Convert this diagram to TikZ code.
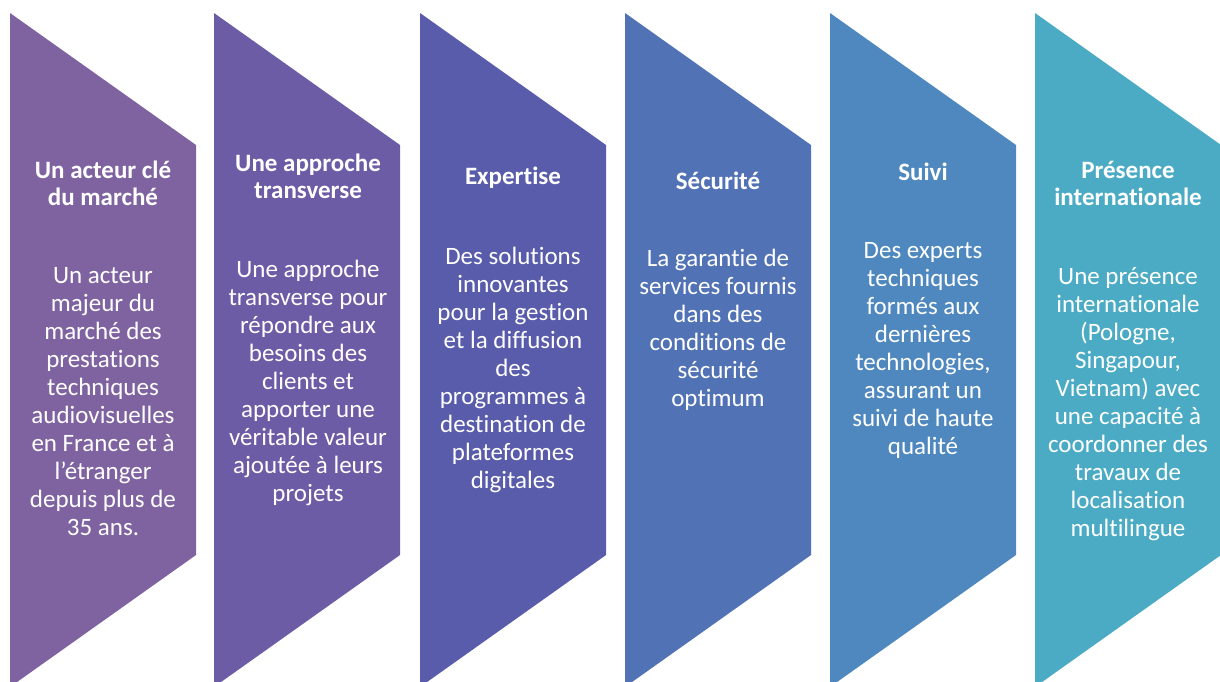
\documentclass[tikz,border=0pt]{standalone}
\usepackage{fontspec}
\setmainfont[Ligatures=NoCommon]{Carlito}
\definecolor{colA}{HTML}{7F63A1}
\definecolor{colB}{HTML}{6C5CA6}
\definecolor{colC}{HTML}{595BAB}
\definecolor{colD}{HTML}{5272B6}
\definecolor{colE}{HTML}{4E88BF}
\definecolor{colF}{HTML}{4BABC4}
\begin{document}
\begin{tikzpicture}[x=1pt, y=-1pt,
      title/.style = {text=white, align=center, font=\fontsize{25}{27}\selectfont\bfseries},
      body/.style = {text=white, align=center, font=\fontsize{25}{28}\selectfont}]
    \useasboundingbox (0,0) rectangle (1220,681);
    \clip (0,0) rectangle (1220,681);

    % chevrons
    \foreach \l/\c in {10/colA, 214/colB, 420/colC, 625/colD, 830/colE, 1035/colF}
      \fill[\c] (\l,13) -- (\l+186,145) -- (\l+186,555) -- (\l,687) -- cycle;

    % titles
    \node[title] (t1) at (103,183) {Un acteur clé\\du marché};
    \node[title] (t2) at (308,176) {Une approche\\transverse};
    \node[title] (t3) at (513,178) {Expertise};
    \node[title] (t4) at (718,181) {Sécurité};
    \node[title] (t5) at (923,172) {Suivi};
    \node[title] (t6) at (1128,183) {Présence\\internationale};

    % texts
    \node[body] (b1) at (103,402) {Un acteur\\majeur du\\marché des\\prestations\\techniques\\audiovisuelles\\en France et à\\l’étranger\\depuis plus de\\35 ans.};
    \node[body] (b2) at (308,383) {Une approche\\transverse pour\\répondre aux\\besoins des\\clients et\\apporter une\\véritable valeur\\ajoutée à leurs\\projets};
    \node[body] (b3) at (513,370) {Des solutions\\innovantes\\pour la gestion\\et la diffusion\\des\\programmes à\\destination de\\plateformes\\digitales};
    \node[body] (b4) at (718,330) {La garantie de\\services fournis\\dans des\\conditions de\\sécurité\\optimum};
    \node[body] (b5) at (923,350) {Des experts\\techniques\\formés aux\\dernières\\technologies,\\assurant un\\suivi de haute\\qualité};
    \node[body] (b6) at (1128,404) {Une présence\\internationale\\(Pologne,\\Singapour,\\Vietnam) avec\\une capacité à\\coordonner des\\travaux de\\localisation\\multilingue};
  \end{tikzpicture}
\end{document}
